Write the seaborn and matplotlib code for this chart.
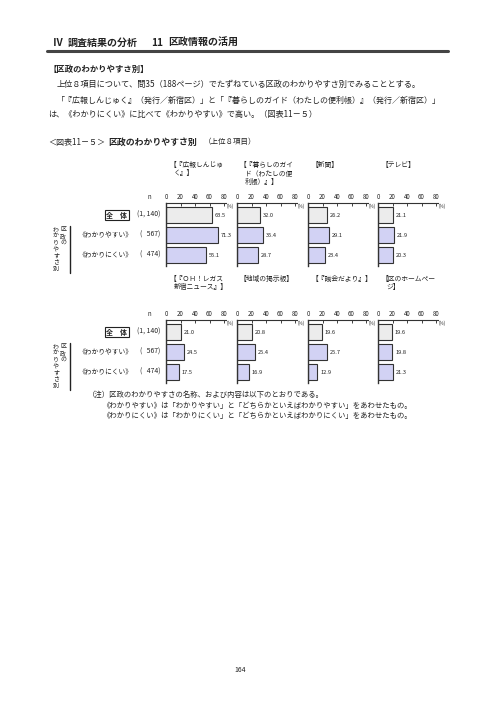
import matplotlib
matplotlib.use("Agg")
import matplotlib.pyplot as plt
from matplotlib.lines import Line2D
import seaborn as sns
import pandas as pd

sns.set_theme(style="white")
plt.rcParams['font.family'] = ['Noto Sans CJK JP', 'DejaVu Sans']

W, H = 496, 702

# ---------------- data ----------------
groups = ["全体", "わかりやすい", "わかりにくい"]
row1_titles = ["【『広報しんじゅ\nく』】", "【『暮らしのガイ\nド（わたしの便\n利帳）』】", "【新聞】", "【テレビ】"]
row2_titles = ["【『ＯＨ！レガス\n新宿ニュース』】", "【地域の掲示板】", "【『議会だより』】", "【区のホームペー\nジ】"]
koho = [63.5, 71.3, 55.1]
kurashi = [32.0, 35.4, 28.7]
shinbun = [26.2, 29.1, 23.4]
terebi = [21.1, 21.9, 20.3]
ohregas = [21.0, 24.5, 17.5]
keijiban = [20.8, 25.4, 16.9]
gikai = [19.6, 25.7, 12.9]
homepage = [19.6, 19.8, 21.3]
row1_values = [koho, kurashi, shinbun, terebi]
row2_values = [ohregas, keijiban, gikai, homepage]
ticks = [0, 20, 40, 60, 80]
row_names = ["《わかりやすい》", "《わかりにくい》"]
row_n = ["(1, 140)", "(   567)", "(   474)"]
vlabel_right = "区政の"
vlabel_left = "わかりやすさ別"

colors = {"全体": "#ECECEC", "わかりやすい": "#CCCCFA", "わかりにくい": "#CCCCFA"}

fig = plt.figure(figsize=(W / 100, H / 100), dpi=100)
fig.patch.set_facecolor("white")


def T(x, y, s, **kw):
    kw.setdefault("va", "center")
    kw.setdefault("ha", "left")
    kw.setdefault("color", "#222222")
    return fig.text(x / W, 1 - y / H, s, **kw)


def HL(x1, x2, y, lw=1.0, color="#222222"):
    fig.add_artist(Line2D([x1 / W, x2 / W], [1 - y / H, 1 - y / H], lw=lw, color=color,
                          transform=fig.transFigure))


def VL(x, y1, y2, lw=1.0, color="#222222"):
    fig.add_artist(Line2D([x / W, x / W], [1 - y1 / H, 1 - y2 / H], lw=lw, color=color,
                          transform=fig.transFigure))


# ---------------- page header ----------------
T(53, 43, "Ⅳ", fontsize=7.2, fontweight="bold")
T(68, 43, "調査結果の分析", fontsize=7.2, fontweight="bold")
T(151, 43, "11", fontsize=7.2, fontweight="bold")
T(168, 43, "区政情報の活用", fontsize=7.2, fontweight="bold")
HL(47, 448, 51, lw=2.2, color="#444444")

T(48, 69, "【区政のわかりやすさ別】", fontsize=6.0, fontweight="bold")
T(57, 84, "上位８項目について、問35（188ページ）でたずねている区政のわかりやすさ別でみることとする。", fontsize=5.9)
T(57, 100, "「『広報しんじゅく』（発行／新宿区）」と「『暮らしのガイド（わたしの便利帳）』（発行／新宿区）」", fontsize=5.75)
T(48, 114, "は、《わかりにくい》に比べて《わかりやすい》で高い。（図表11－５）", fontsize=5.9)

T(48, 142, "＜図表11－５＞", fontsize=5.8)
T(108, 142, "区政のわかりやすさ別", fontsize=6.4, fontweight="bold")
T(204, 142, "（上位８項目）", fontsize=5.4)

# ---------------- charts ----------------
panel_x0 = [166, 237, 308, 378]
px_per_unit = 0.725
xmax = 83
row_tops = [203, 320]
row_height = 63


def draw_row(top, titles, values_list, title_y, title_step):
    for x0, title, vals in zip(panel_x0, titles, values_list):
        ax = fig.add_axes([x0 / W, 1 - (top + row_height) / H,
                           xmax * px_per_unit / W, row_height / H])
        df = pd.DataFrame({"group": groups, "value": vals})
        sns.barplot(data=df, x="value", y="group", hue="group", palette=colors,
                    orient="h", width=0.8, edgecolor="#333333", linewidth=0.8,
                    legend=False, ax=ax)
        for c in ax.containers:
            ax.bar_label(c, fmt="%.1f", padding=2, fontsize=4.1, color="#222222")
        ax.set_xlim(0, xmax)
        ax.set_ylim(2.55, -0.6)
        ax.set_xticks(ticks)
        ax.set_xticklabels([str(t) for t in ticks])
        ax.set_yticks([])
        ax.set_xlabel("")
        ax.set_ylabel("")
        ax.set_facecolor("none")
        ax.xaxis.tick_top()
        ax.tick_params(axis="x", top=True, bottom=False, labeltop=True, labelbottom=False,
                       direction="in", length=2, width=0.6, pad=1.8, labelsize=4.4,
                       colors="#222222")
        for side in ["bottom", "right"]:
            ax.spines[side].set_visible(False)
        ax.spines["top"].set_linewidth(0.8)
        ax.spines["top"].set_color("#333333")
        ax.spines["left"].set_linewidth(1.0)
        ax.spines["left"].set_color("#333333")
        ax.text(1.01, 0.985, "(%)", transform=ax.transAxes, fontsize=3.3, va="top",
                ha="left", color="#222222")
        # title
        for i, ln in enumerate(title.split("\n")):
            T(x0 + (3 if i == 0 else 8), title_y + i * title_step, ln, fontsize=4.9)

    # row labels
    T(148, top - 6, "n", fontsize=4.4)
    T(117, top + 12, "全　体", fontsize=5.0, ha="center", fontweight="bold",
      bbox=dict(boxstyle="square,pad=0.25", fc="white", ec="#222222", lw=0.8))
    T(160, top + 12, row_n[0], fontsize=4.9, ha="right")
    T(78, top + 32, row_names[0], fontsize=4.9)
    T(160, top + 32, row_n[1], fontsize=4.9, ha="right")
    T(78, top + 52, row_names[1], fontsize=4.9)
    T(160, top + 52, row_n[2], fontsize=4.9, ha="right")
    # vertical label, one glyph per position
    for i, ch in enumerate(vlabel_right):
        T(63, top + 26.5 + i * 6.6, ch, fontsize=4.3, ha="center")
    for i, ch in enumerate(vlabel_left):
        T(56, top + 26.5 + i * 6.6, ch, fontsize=4.3, ha="center")
    VL(70, top + 23, top + 70, lw=1.0)


draw_row(row_tops[0], row1_titles, row1_values, 165, 8.5)
draw_row(row_tops[1], row2_titles, row2_values, 279, 8)

# ---------------- notes ----------------
T(88, 395, "（注）区政のわかりやすさの名称、および内容は以下のとおりである。", fontsize=5.3)
T(102, 406, "《わかりやすい》は「わかりやすい」と「どちらかといえばわかりやすい」をあわせたもの。", fontsize=5.3)
T(102, 416, "《わかりにくい》は「わかりにくい」と「どちらかといえばわかりにくい」をあわせたもの。", fontsize=5.3)

T(240, 670, "164", fontsize=5.0, ha="center")

fig.savefig("out.png", dpi=100, facecolor="white")
